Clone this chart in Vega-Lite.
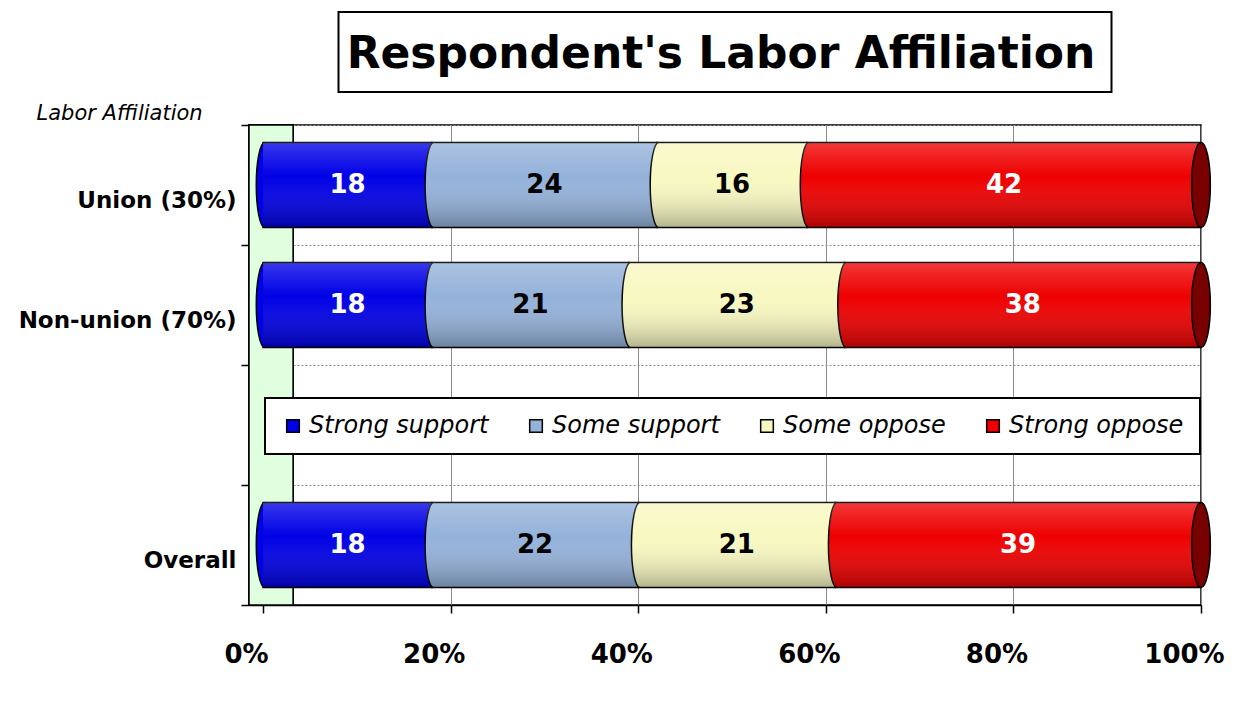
{
  "$schema": "https://vega.github.io/schema/vega-lite/v6.json",
  "background": "white",
  "padding": {"left": 17, "top": 11, "right": 5, "bottom": 5},
  "config": {"font": "DejaVu Sans", "text": {"font": "DejaVu Sans"}},
  "bounds": "flush",
  "center": true,
  "spacing": 33,
  "vconcat": [
    {
      "width": 773,
      "height": 80,
      "view": {"stroke": "black", "strokeWidth": 2, "fill": "white"},
      "data": {"values": [{"title": "Respondent's Labor Affiliation"}]},
      "mark": {"type": "text", "font": "DejaVu Sans", "fontSize": 44, "fontWeight": "bold", "color": "black", "baseline": "middle", "align": "center", "dy": 3, "dx": -4},
      "encoding": {"text": {"field": "title", "type": "nominal"}}
    },
    {
      "width": 952,
      "height": 480,
      "view": {"stroke": "black", "strokeWidth": 1.5},
      "data": {
        "values": [
          {"group": "Union (30%)", "resp": "Strong support", "value": 18},
          {"group": "Union (30%)", "resp": "Some support", "value": 24},
          {"group": "Union (30%)", "resp": "Some oppose", "value": 16},
          {"group": "Union (30%)", "resp": "Strong oppose", "value": 42},
          {"group": "Non-union (70%)", "resp": "Strong support", "value": 18},
          {"group": "Non-union (70%)", "resp": "Some support", "value": 21},
          {"group": "Non-union (70%)", "resp": "Some oppose", "value": 23},
          {"group": "Non-union (70%)", "resp": "Strong oppose", "value": 38},
          {"group": "Overall", "resp": "Strong support", "value": 18},
          {"group": "Overall", "resp": "Some support", "value": 22},
          {"group": "Overall", "resp": "Some oppose", "value": 21},
          {"group": "Overall", "resp": "Strong oppose", "value": 39}
        ]
      },
      "transform": [
        {"stack": "value", "groupby": ["group"], "as": ["x0", "x1"]},
        {"calculate": "(datum.x0 + datum.x1) / 2", "as": "xm"}
      ],
      "layer": [
        {
          "mark": {"type": "rect", "fill": "#dfffdf", "stroke": "black", "strokeWidth": 1.5},
          "encoding": {
            "x": {"datum": -1.5, "type": "quantitative", "title": null,
              "scale": {"domain": [-1.5, 100], "nice": false, "zero": false},
              "axis": {"values": [0, 20, 40, 60, 80, 100], "labelExpr": "datum.value + '%'", "labelFontSize": 26, "labelFontWeight": "bold", "labelColor": "black", "labelFlush": false, "labelOffset": -17, "domainColor": "black", "domainWidth": 1.5, "tickColor": "black", "tickWidth": 1.5, "tickSize": 8, "labelPadding": 28, "grid": true, "gridColor": "#8c8c8c", "gridWidth": 1}},
            "x2": {"datum": 3.2}
          }
        },
        {
          "mark": {"type": "bar", "stroke": "black", "strokeWidth": 1.5, "height": {"band": 0.71}},
          "encoding": {
            "x": {"field": "x0", "type": "quantitative", "title": null, "scale": {"domain": [-1.5, 100], "nice": false, "zero": false}},
            "x2": {"field": "x1"},
            "y": {"field": "group", "type": "nominal", "title": "Labor Affiliation",
              "scale": {"domain": ["Union (30%)", "Non-union (70%)", " ", "Overall"], "paddingInner": 0, "paddingOuter": 0},
              "axis": {"domainColor": "black", "domainWidth": 1.5, "tickColor": "black", "tickSize": 8, "tickWidth": 1.5, "tickBand": "extent", "labelFontSize": 23, "labelFontWeight": "bold", "labelColor": "black", "labelPadding": 5, "labelOffset": 15, "labelLimit": 400, "grid": true, "gridColor": "#8c8c8c", "gridDash": [2, 2], "titleAngle": 0, "titleFontStyle": "italic", "titleFontWeight": "normal", "titleFontSize": 21, "titleX": -213, "titleY": -6, "titleAlign": "left", "titleBaseline": "alphabetic", "titleColor": "black"}},
            "color": {"field": "resp", "type": "nominal",
              "scale": {"domain": ["Strong support", "Some support", "Some oppose", "Strong oppose"], "range": ["#0000e6", "#94b2da", "#f8f8c2", "#ee0000"]},
              "legend": {"orient": "none", "legendX": 16, "legendY": 386, "direction": "horizontal", "columns": 4, "title": null, "fillColor": "white", "strokeColor": "black", "padding": 16, "columnPadding": 35, "symbolType": "square", "symbolSize": 160, "symbolStrokeColor": "black", "symbolStrokeWidth": 1.5, "labelFont": "DejaVu Sans", "labelFontSize": 24, "labelFontStyle": "italic", "labelColor": "black", "labelOffset": 4, "labelLimit": 400,
                "encode": {"legend": {"update": {"strokeWidth": {"value": 2}}}}}}
          }
        },
        {
          "mark": {"type": "point", "filled": true, "shape": "M0.04,-1 A0.2,1 0 0,0 0.04,1", "size": 7225, "stroke": "black", "strokeWidth": 1.5, "opacity": 1},
          "encoding": {
            "x": {"field": "x0", "type": "quantitative", "title": null},
            "y": {"field": "group", "type": "nominal", "title": "Labor Affiliation"},
            "fill": {"field": "resp", "type": "nominal", "legend": null,
              "scale": {"domain": ["Strong support", "Some support", "Some oppose", "Strong oppose"], "range": ["#0000e6", "#94b2da", "#f8f8c2", "#ee0000"]}}
          }
        },
        {
          "mark": {"type": "bar", "strokeWidth": 0, "height": {"band": 0.71},
            "fill": {"gradient": "linear", "x1": 0, "y1": 0, "x2": 0, "y2": 1,
              "stops": [
                {"offset": 0, "color": "rgba(255,255,255,0.22)"},
                {"offset": 0.4, "color": "rgba(255,255,255,0.0)"},
                {"offset": 1, "color": "rgba(0,0,0,0.28)"}
              ]}},
          "encoding": {
            "x": {"field": "x0", "type": "quantitative", "title": null},
            "x2": {"field": "x1"},
            "y": {"field": "group", "type": "nominal", "title": "Labor Affiliation"}
          }
        },
        {
          "transform": [{"filter": "datum.resp == 'Strong oppose'"}],
          "mark": {"type": "point", "filled": true, "shape": "M0,-1 A0.22,1 0 1,1 0,1 A0.22,1 0 1,1 0,-1 Z", "size": 7225, "fill": "#780000", "stroke": "black", "strokeWidth": 1.5, "opacity": 1},
          "encoding": {
            "x": {"field": "x1", "type": "quantitative", "title": null},
            "y": {"field": "group", "type": "nominal", "title": "Labor Affiliation"}
          }
        },
        {
          "mark": {"type": "text", "font": "DejaVu Sans", "fontSize": 26, "fontWeight": "bold", "baseline": "middle", "align": "center"},
          "encoding": {
            "x": {"field": "xm", "type": "quantitative", "title": null},
            "y": {"field": "group", "type": "nominal", "title": "Labor Affiliation"},
            "text": {"field": "value", "type": "quantitative"},
            "color": {"condition": {"test": "datum.resp == 'Strong support' || datum.resp == 'Strong oppose'", "value": "white"}, "value": "black"}
          }
        }
      ]
    }
  ]
}
